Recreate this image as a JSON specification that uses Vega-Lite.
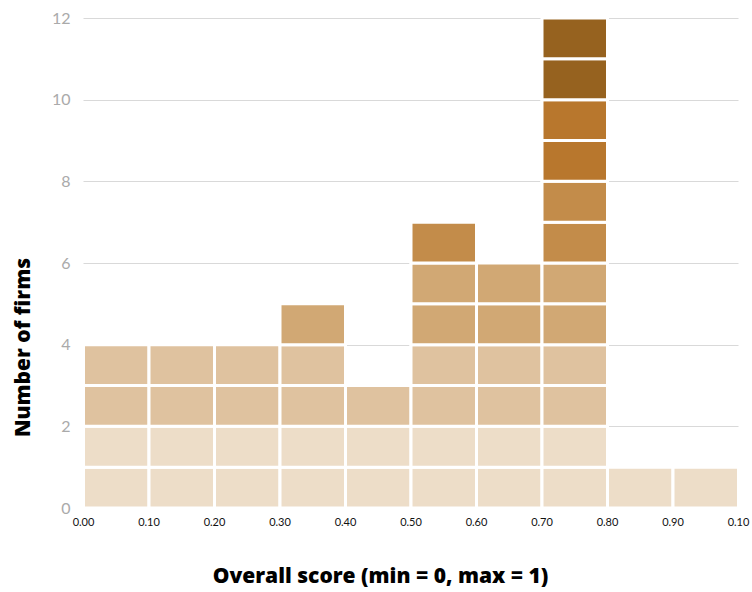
{
  "$schema": "https://vega.github.io/schema/vega-lite/v6.json",
  "width": 655,
  "height": 490,
  "autosize": "none",
  "padding": {"left": 83, "top": 18, "right": 14, "bottom": 84},
  "background": "white",
  "config": {
    "view": {"stroke": null},
    "font": "Lato"
  },
  "data": {
    "values": [
      {"score": 0.05, "firm": 1, "tier": 1}, {"score": 0.05, "firm": 2, "tier": 1}, {"score": 0.05, "firm": 3, "tier": 2}, {"score": 0.05, "firm": 4, "tier": 2},
      {"score": 0.15, "firm": 1, "tier": 1}, {"score": 0.15, "firm": 2, "tier": 1}, {"score": 0.15, "firm": 3, "tier": 2}, {"score": 0.15, "firm": 4, "tier": 2},
      {"score": 0.25, "firm": 1, "tier": 1}, {"score": 0.25, "firm": 2, "tier": 1}, {"score": 0.25, "firm": 3, "tier": 2}, {"score": 0.25, "firm": 4, "tier": 2},
      {"score": 0.35, "firm": 1, "tier": 1}, {"score": 0.35, "firm": 2, "tier": 1}, {"score": 0.35, "firm": 3, "tier": 2}, {"score": 0.35, "firm": 4, "tier": 2}, {"score": 0.35, "firm": 5, "tier": 3},
      {"score": 0.45, "firm": 1, "tier": 1}, {"score": 0.45, "firm": 2, "tier": 1}, {"score": 0.45, "firm": 3, "tier": 2},
      {"score": 0.55, "firm": 1, "tier": 1}, {"score": 0.55, "firm": 2, "tier": 1}, {"score": 0.55, "firm": 3, "tier": 2}, {"score": 0.55, "firm": 4, "tier": 2}, {"score": 0.55, "firm": 5, "tier": 3}, {"score": 0.55, "firm": 6, "tier": 3}, {"score": 0.55, "firm": 7, "tier": 4},
      {"score": 0.65, "firm": 1, "tier": 1}, {"score": 0.65, "firm": 2, "tier": 1}, {"score": 0.65, "firm": 3, "tier": 2}, {"score": 0.65, "firm": 4, "tier": 2}, {"score": 0.65, "firm": 5, "tier": 3}, {"score": 0.65, "firm": 6, "tier": 3},
      {"score": 0.75, "firm": 1, "tier": 1}, {"score": 0.75, "firm": 2, "tier": 1}, {"score": 0.75, "firm": 3, "tier": 2}, {"score": 0.75, "firm": 4, "tier": 2}, {"score": 0.75, "firm": 5, "tier": 3}, {"score": 0.75, "firm": 6, "tier": 3}, {"score": 0.75, "firm": 7, "tier": 4}, {"score": 0.75, "firm": 8, "tier": 4}, {"score": 0.75, "firm": 9, "tier": 5}, {"score": 0.75, "firm": 10, "tier": 5}, {"score": 0.75, "firm": 11, "tier": 6}, {"score": 0.75, "firm": 12, "tier": 6},
      {"score": 0.85, "firm": 1, "tier": 1},
      {"score": 0.95, "firm": 1, "tier": 1}
    ]
  },
  "mark": {"type": "bar", "stroke": "white", "strokeWidth": 3, "binSpacing": 0},
  "encoding": {
    "x": {
      "field": "score",
      "type": "quantitative",
      "bin": {"extent": [0, 1], "step": 0.1},
      "scale": {"domain": [0, 1], "nice": false},
      "axis": {
        "values": [0, 0.1, 0.2, 0.3, 0.4, 0.5, 0.6, 0.7, 0.8, 0.9, 1],
        "labelExpr": "datum.value >= 1 ? '0.10' : format(datum.value, '.2f')",
        "grid": false,
        "domain": false,
        "ticks": false,
        "labelColor": "#111",
        "labelFontSize": 11,
        "labelPadding": 8,
        "labelFlush": false,
        "title": "Overall score (min = 0, max = 1)",
        "titleFont": "Open Sans",
        "titleFontSize": 21,
        "titleFontWeight": 800,
        "titleColor": "#000",
        "titleX": 297,
        "titlePadding": 38
      }
    },
    "y": {
      "aggregate": "count",
      "type": "quantitative",
      "stack": "zero",
      "scale": {"domain": [0, 12], "nice": false},
      "axis": {
        "values": [0, 2, 4, 6, 8, 10, 12],
        "domain": false,
        "ticks": false,
        "grid": true,
        "gridColor": "#d9d9d9",
        "gridWidth": 1,
        "labelColor": "#aaaaaa",
        "labelFontSize": 16,
        "labelPadding": 13,
        "title": "Number of firms",
        "titleFont": "Open Sans",
        "titleFontSize": 21,
        "titleFontWeight": 800,
        "titleColor": "#000",
        "titleY": 329,
        "titlePadding": 18
      }
    },
    "detail": {"field": "firm", "type": "quantitative"},
    "order": {"field": "firm", "type": "quantitative", "sort": "ascending"},
    "color": {
      "field": "tier",
      "type": "ordinal",
      "scale": {"domain": [1, 2, 3, 4, 5, 6], "range": ["#EDDDC8", "#DFC29F", "#D1A874", "#C38C4A", "#B8772D", "#96621F"]},
      "legend": null
    }
  }
}
